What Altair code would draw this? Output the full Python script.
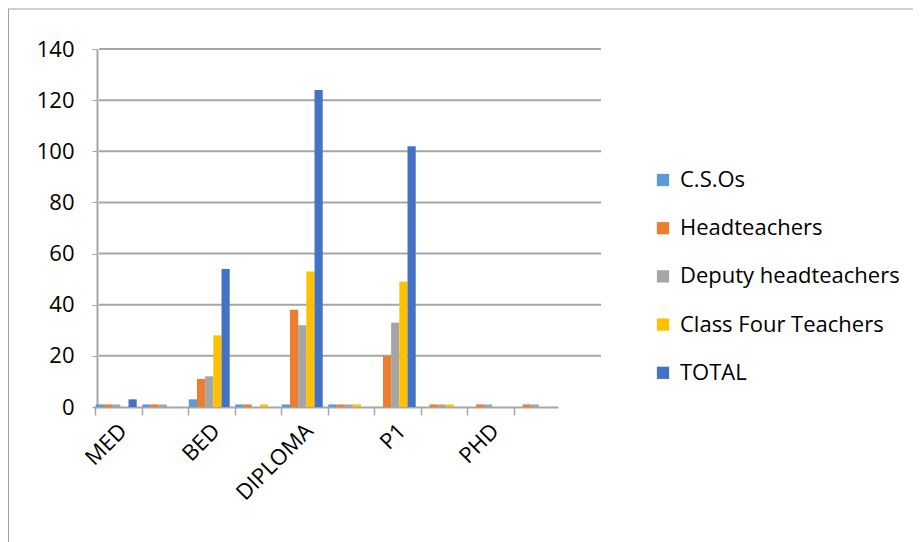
import altair as alt
import pandas as pd

categories = ["MED", "(2)", "BED", "(4)", "DIPLOMA", "(6)", "P1", "(8)", "PHD", "(10)"]
shown_labels = ["MED", "BED", "DIPLOMA", "P1", "PHD"]
series = ["C.S.Os", "Headteachers", "Deputy headteachers", "Class Four Teachers", "TOTAL"]
colors = ["#5B9BD5", "#ED7D31", "#A5A5A5", "#FFC000", "#4472C4"]
y_ticks = [0, 20, 40, 60, 80, 100, 120, 140]

cso = [1, 1, 3, 1, 1, 1, 0, 0, 0, 0]
head = [1, 1, 11, 1, 38, 1, 20, 1, 1, 1]
deputy = [1, 1, 12, 0, 32, 1, 33, 1, 1, 1]
class_four = [0, 0, 28, 1, 53, 1, 49, 1, 0, 0]
total = [3, 0, 54, 0, 124, 0, 102, 0, 0, 0]

rows = []
for i, c in enumerate(categories):
    for s, vals in zip(series, [cso, head, deputy, class_four, total]):
        rows.append({"category": c, "series": s, "value": vals[i]})
df = pd.DataFrame(rows)
grid_df = pd.DataFrame({"v": y_ticks[1:]})

FONT = "Open Sans"
label_list = "[" + ",".join("'" + l + "'" for l in shown_labels) + "]"
yscale = alt.Scale(domain=[0, 140])
yaxis = alt.Axis(title=None, values=y_ticks, labelFontSize=22, grid=False,
                 labelFont=FONT, labelColor="#000000", labelPadding=18, tickSize=5,
                 tickColor="#a6a6a6", domainColor="#a6a6a6", domainWidth=2)

grid = alt.Chart(grid_df).mark_rule(color="#a6a6a6", strokeWidth=2).encode(
    y=alt.Y("v:Q", scale=yscale, axis=yaxis),
    x=alt.value(2), x2=alt.value(504),
)

bars = alt.Chart(df).mark_bar().encode(
    x=alt.X("category:N", sort=categories,
            scale=alt.Scale(range=[-4, 461], paddingInner=0.12, paddingOuter=0.06),
            axis=alt.Axis(title=None, labelAngle=-45, labelAlign="right", labelBaseline="top",
                          labelFontSize=22, labelFont=FONT, labelColor="#000000", labelLimit=0,
                          labelPadding=5, bandPosition=0, tickSize=8, tickColor="#a6a6a6",
                          tickWidth=1.5, domainColor="#a6a6a6", domainWidth=2, grid=False,
                          labelExpr="indexof(" + label_list + ", datum.value) >= 0 ? datum.value : ''")),
    xOffset=alt.XOffset("series:N", sort=series, scale=alt.Scale(paddingInner=0, paddingOuter=0)),
    y=alt.Y("value:Q", scale=yscale, axis=yaxis),
    color=alt.Color("series:N", sort=series, scale=alt.Scale(domain=series, range=colors),
                    legend=alt.Legend(title=None, orient="none", legendX=555, legendY=120,
                                      symbolType="square", symbolSize=150, symbolStrokeWidth=0,
                                      labelFontSize=22, labelFont=FONT, labelColor="#000000",
                                      labelLimit=0, rowPadding=26.2, labelOffset=6)),
)

frame_df = pd.DataFrame({"k": [0]})
frame_top = alt.Chart(frame_df).mark_rule(color="#a0a0a0", strokeWidth=1, clip=False).encode(
    x=alt.value(-89), x2=alt.value(840), y=alt.value(-40))
frame_left = alt.Chart(frame_df).mark_rule(color="#a0a0a0", strokeWidth=1, clip=False).encode(
    x=alt.value(-88.5), y=alt.value(-40), y2=alt.value(560))

chart = alt.layer(frame_top, frame_left, grid, bars).properties(
    width=504, height=358,
    autosize=alt.AutoSizeParams(type="none"),
    padding={"left": 89, "top": 41, "right": 312, "bottom": 135},
    background="#ffffff",
).configure_view(stroke=None)

chart.save("out.html", embed_options={"renderer": "svg", "actions": False})
